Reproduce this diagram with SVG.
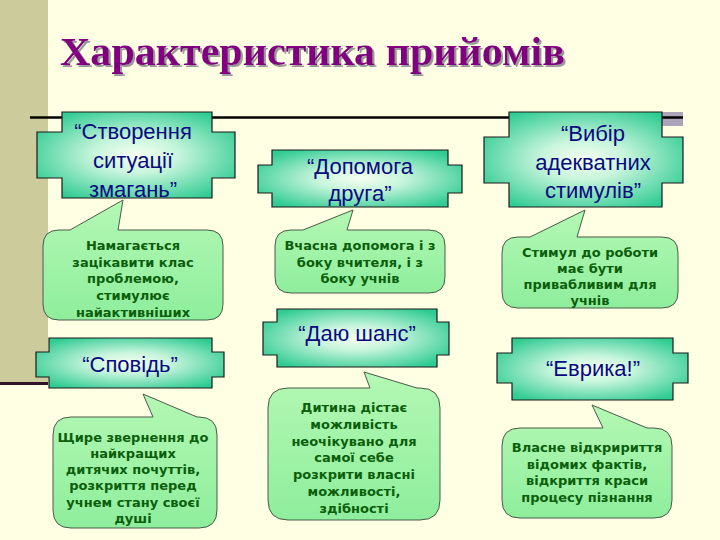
<svg xmlns="http://www.w3.org/2000/svg" width="720" height="540" viewBox="0 0 720 540">
<defs>
<radialGradient id="plq" cx="50%" cy="50%" r="60%">
<stop offset="0%" stop-color="#F6FFF2"/>
<stop offset="35%" stop-color="#C8F5DC"/>
<stop offset="100%" stop-color="#2FCB92"/>
</radialGradient>
<linearGradient id="cal" x1="0" y1="0" x2="0" y2="1">
<stop offset="0%" stop-color="#B4F8B4"/>
<stop offset="100%" stop-color="#8EEE9C"/>
</linearGradient>
<filter id="shadow" x="-5%" y="-20%" width="110%" height="140%">
<feDropShadow dx="2" dy="2" stdDeviation="0.3" flood-color="#9A9A9A" flood-opacity="1"/>
</filter>
<style>
.plaque{fill:url(#plq);stroke:#1a1a1a;stroke-width:1.2}
.callout{fill:url(#cal);stroke:#4a5a4a;stroke-width:1}
.pt{font-family:"Liberation Sans",Arial,sans-serif;font-size:22px;fill:#0A0A80;text-anchor:middle}
.ct{font-family:"DejaVu Sans",Verdana,sans-serif;font-weight:bold;font-size:13px;fill:#0B5E0B;text-anchor:middle}
.title{font-family:"Liberation Serif","Times New Roman",serif;font-weight:bold;font-size:40px;fill:#800080}
</style>
</defs>
<rect width="720" height="540" fill="#FFFFE3"/>
<rect x="0" y="0" width="48" height="382" fill="#CBCB9B"/>
<rect x="0" y="382" width="48" height="3" fill="#33102A"/>
<rect x="660" y="112" width="23" height="14" fill="#ACA4B8"/>
<line x1="30" y1="117.5" x2="683" y2="117.5" stroke="#000" stroke-width="2.5"/>
<g id="title">
<text class="title" x="60" y="65" filter="url(#shadow)" textLength="505" lengthAdjust="spacingAndGlyphs">Характеристика прийомів</text>
</g>
<g id="connectors"></g>
<g id="node-stvorennia">
<path class="plaque" d="M62,112 H212 V132 H235 V178 H212 V198 H62 V178 H37 V132 H62 Z"/>
<text class="pt" x="133" y="139">“Створення</text>
<text class="pt" x="133" y="168">ситуації</text>
<text class="pt" x="133" y="197">змагань”</text>
</g>
<g id="callout-stvorennia">
<path class="callout" d="M59,230 H70 L123,200 L118,230 H207 Q223,230 223,246 V304 Q223,320 207,320 H59 Q43,320 43,304 V246 Q43,230 59,230 Z"/>
<text class="ct" x="133" y="250">Намагається</text>
<text class="ct" x="133" y="267">зацікавити клас</text>
<text class="ct" x="133" y="283">проблемою,</text>
<text class="ct" x="133" y="300">стимулює</text>
<text class="ct" x="133" y="317">найактивніших</text>
</g>
<g id="node-dopomoga">
<path class="plaque" d="M272,150 H448 V165 H462 V193 H448 V207 H272 V193 H258 V165 H272 Z"/>
<text class="pt" x="360" y="174">“Допомога</text>
<text class="pt" x="360" y="201">друга”</text>
</g>
<g id="callout-dopomoga">
<path class="callout" d="M291,230 H303 L353,210 L347,230 H429 Q445,230 445,246 V277 Q445,293 429,293 H291 Q275,293 275,277 V246 Q275,230 291,230 Z"/>
<text class="ct" x="360" y="250">Вчасна допомога і з</text>
<text class="ct" x="360" y="267">боку вчителя, і з</text>
<text class="ct" x="360" y="283">боку учнів</text>
</g>
<g id="node-vybir">
<path class="plaque" d="M509,112 H662 V137 H683 V183 H662 V207 H509 V183 H484 V137 H509 Z"/>
<text class="pt" x="593" y="141">“Вибір</text>
<text class="pt" x="593" y="170">адекватних</text>
<text class="pt" x="593" y="198">стимулів”</text>
</g>
<g id="callout-vybir">
<path class="callout" d="M518,237 H530 L585,210 L577,237 H662 Q678,237 678,253 V292 Q678,308 662,308 H518 Q502,308 502,292 V253 Q502,237 518,237 Z"/>
<text class="ct" x="590" y="257">Стимул до роботи</text>
<text class="ct" x="590" y="273">має бути</text>
<text class="ct" x="590" y="289">привабливим для</text>
<text class="ct" x="590" y="305">учнів</text>
</g>
<g id="node-spovid">
<path class="plaque" d="M49,338 H212 V352 H224 V377 H212 V388 H49 V377 H36 V352 H49 Z"/>
<text class="pt" x="130" y="372">“Сповідь”</text>
</g>
<g id="callout-spovid">
<path class="callout" d="M71,417 H153 L143,394 L197,417 H199 Q217,417 217,435 V510 Q217,528 199,528 H71 Q53,528 53,510 V435 Q53,417 71,417 Z"/>
<text class="ct" x="133" y="442">Щире звернення до</text>
<text class="ct" x="133" y="458">найкращих</text>
<text class="ct" x="133" y="474">дитячих почуттів,</text>
<text class="ct" x="133" y="490">розкриття перед</text>
<text class="ct" x="133" y="507">учнем стану своєї</text>
<text class="ct" x="133" y="523">душі</text>
</g>
<g id="node-dayu-shans">
<path class="plaque" d="M277,309 H437 V322 H449 V355 H437 V367 H277 V355 H263 V322 H277 Z"/>
<text class="pt" x="357" y="341">“Даю шанс”</text>
</g>
<g id="callout-dayu-shans">
<path class="callout" d="M288,388 H370 L364,372 L417,388 H420 Q440,388 440,408 V500 Q440,520 420,520 H288 Q268,520 268,500 V408 Q268,388 288,388 Z"/>
<text class="ct" x="354" y="412">Дитина дістає</text>
<text class="ct" x="354" y="429">можливість</text>
<text class="ct" x="354" y="446">неочікувано для</text>
<text class="ct" x="354" y="462">самої себе</text>
<text class="ct" x="354" y="479">розкрити власні</text>
<text class="ct" x="354" y="496">можливості,</text>
<text class="ct" x="354" y="513">здібності</text>
</g>
<g id="node-evryka">
<path class="plaque" d="M512,338 H673 V353 H688 V383 H673 V400 H512 V383 H497 V353 H512 Z"/>
<text class="pt" x="593" y="376">“Еврика!”</text>
</g>
<g id="callout-evryka">
<path class="callout" d="M520,428 H603 L592,405 L647,428 H654 Q672,428 672,446 V500 Q672,518 654,518 H520 Q502,518 502,500 V446 Q502,428 520,428 Z"/>
<text class="ct" x="587" y="452">Власне відкририття</text>
<text class="ct" x="587" y="469">відомих фактів,</text>
<text class="ct" x="587" y="485">відкриття краси</text>
<text class="ct" x="587" y="502">процесу пізнання</text>
</g>
</svg>
